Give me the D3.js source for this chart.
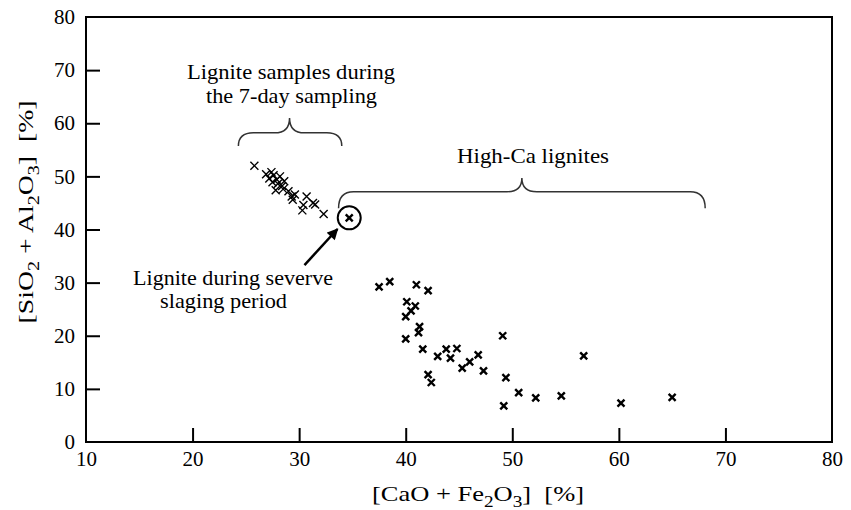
<!DOCTYPE html>
<html>
<head>
<meta charset="utf-8">
<script src="https://d3js.org/d3.v7.min.js"></script>
<style>
body { margin:0; background:#fff; }
svg text { font-family:"Liberation Serif","DejaVu Serif",serif; fill:#000; }
</style>
</head>
<body>
<svg id="chart" width="851" height="510"></svg>
<script>
// Lignite samples during the 7-day sampling: [CaO+Fe2O3, SiO2+Al2O3]
var sampling_x=[25.8,26.9,27.2,27.4,27.6,27.9,28.0,27.5,28.2,28.4,28.6,27.8,28.5,29.0,29.3,29.4,29.6,30.3,30.4,30.7,31.3,31.5,32.3];
var sampling_y=[52.0,50.4,49.6,50.8,50.2,49.4,48.6,48.9,50.0,48.2,49.1,47.4,47.6,47.2,46.2,45.6,46.6,43.6,44.6,46.2,45.0,44.7,42.9];

// High-Ca lignites
var highca_x=[37.5,38.5,41.0,42.1,40.1,40.9,40.5,40.0,41.3,41.2,40.0,41.6,43.0,43.8,44.8,44.2,45.3,46.0,46.8,47.3,42.1,42.4,49.1,49.4,49.2,50.6,52.2,54.6,56.7,60.2,65.0];
var highca_y=[29.2,30.2,29.6,28.5,26.4,25.6,24.7,23.6,21.7,20.6,19.4,17.5,16.1,17.5,17.6,15.8,13.9,15.1,16.4,13.4,12.7,11.2,20.0,12.1,6.8,9.3,8.3,8.7,16.2,7.3,8.4];

// Lignite during severe slagging period
var slag_x=[34.7];
var slag_y=[42.2];

var xticks=[10,20,30,40,50,60,70,80];
var yticks=[0,10,20,30,40,50,60,70,80];

var W=851, H=510;
var marg_left=86, marg_right=19, marg_top=17, marg_bottom=68;

var svg=d3.select('#chart');

var xScale=d3.scaleLinear().domain([10,80]).range([marg_left,W-marg_right]);
var yScale=d3.scaleLinear().domain([0,80]).range([H-marg_bottom,marg_top]);

// axes (ticks pointing inward)
var xAxis=d3.axisBottom(xScale).tickValues(xticks).tickSizeInner(-14).tickSizeOuter(0).tickPadding(9);
var yAxis=d3.axisLeft(yScale).tickValues(yticks).tickSizeInner(-14).tickSizeOuter(0).tickPadding(11);

var gx=svg.append('g')
	.attr('transform','translate(0,'+(H-marg_bottom)+')')
	.call(xAxis);
var gy=svg.append('g')
	.attr('transform','translate('+marg_left+',0)')
	.call(yAxis);
[gx,gy].forEach(function(g) {
	g.select('.domain').remove();
	g.selectAll('line').attr('stroke','#000').attr('stroke-width',2);
	g.selectAll('text').style('font-size','21px').attr('fill','#000');
});
// first/last ticks coincide with frame
gy.selectAll('.tick').filter(function(d) {return d==0||d==80;}).select('line').remove();
gx.selectAll('.tick').filter(function(d) {return d==10||d==80;}).select('line').remove();

// frame
svg.append('rect')
	.attr('x',xScale(10)).attr('y',yScale(80))
	.attr('width',xScale(80)-xScale(10)).attr('height',yScale(0)-yScale(80))
	.attr('fill','none').attr('stroke','#000').attr('stroke-width',2);

// axis labels with subscripts, stretched to the measured width
function sub_label(transform,parts,target) {
	var g=svg.append('g').attr('transform',transform);
	var t=g.append('text').attr('text-anchor','middle').style('font-size','22px');
	parts.forEach(function(p) {
		if (p.sub) t.append('tspan').attr('dy',6).style('font-size','16px').text(p.s);
		else t.append('tspan').attr('dy',p.after_sub?-6:0).text(p.s);
	});
	var len=t.node().getComputedTextLength();
	t.attr('transform','scale('+(target/len)+',1)');
}
sub_label('translate(478,501)',[
	{s:'[CaO + Fe'},{s:'2',sub:true},{s:'O',after_sub:true},{s:'3',sub:true},{s:']\u00a0\u00a0[%]',after_sub:true}
],212);
sub_label('translate(33,212) rotate(-90)',[
	{s:'[SiO'},{s:'2',sub:true},{s:' + Al',after_sub:true},{s:'2',sub:true},{s:'O',after_sub:true},{s:'3',sub:true},{s:']\u00a0\u00a0[%]',after_sub:true}
],223);

// markers
function cross(g,xs,ys,size,sw) {
	var data=xs.map(function(x,i) {return {x:x,y:ys[i]};});
	var s=size/2;
	g.selectAll('path.pt').data(data).enter().append('path')
		.attr('class','pt')
		.attr('d',function(d) {
			var cx=xScale(d.x), cy=yScale(d.y);
			return 'M'+(cx-s)+','+(cy-s)+'L'+(cx+s)+','+(cy+s)+'M'+(cx-s)+','+(cy+s)+'L'+(cx+s)+','+(cy-s);
		})
		.attr('stroke','#000').attr('stroke-width',sw).attr('fill','none');
}
cross(svg.append('g'),sampling_x,sampling_y,8,1.4);
cross(svg.append('g'),highca_x,highca_y,7,2.4);
cross(svg.append('g'),slag_x,slag_y,7,2.4);

// circle around slagging sample
svg.append('circle')
	.attr('cx',xScale(slag_x[0])).attr('cy',yScale(slag_y[0])).attr('r',11.5)
	.attr('fill','none').attr('stroke','#000').attr('stroke-width',2);

// curly braces
function brace(x0,x1,xm,yend,yline,ytip) {
	var X0=xScale(x0), X1=xScale(x1), XM=xScale(xm);
	var YE=yScale(yend), YL=yScale(yline), YT=yScale(ytip);
	var r=Math.min(10,(XM-X0)/4);
	var d='M'+X0+','+YE
		+'Q'+X0+','+YL+' '+(X0+r*1.5)+','+YL
		+'L'+(XM-r*1.5)+','+YL
		+'Q'+XM+','+YL+' '+XM+','+YT
		+'Q'+XM+','+YL+' '+(XM+r*1.5)+','+YL
		+'L'+(X1-r*1.5)+','+YL
		+'Q'+X1+','+YL+' '+X1+','+YE;
	svg.append('path').attr('d',d).attr('fill','none').attr('stroke','#333').attr('stroke-width',1.5);
}
brace(24.3,34.0,29.1,55.7,58.2,61.0);
brace(33.7,68.1,50.9,44.0,47.1,49.7);

// arrow
svg.append('defs').append('marker')
	.attr('id','arrowhead').attr('viewBox','0 0 10 10')
	.attr('refX',9).attr('refY',5)
	.attr('markerWidth',5).attr('markerHeight',4.5)
	.attr('markerUnits','strokeWidth')
	.attr('orient','auto')
	.append('path').attr('d','M0,0L10,5L0,10z').attr('fill','#000');
svg.append('line')
	.attr('x1',xScale(30.5)).attr('y1',yScale(33.3))
	.attr('x2',xScale(33.6)).attr('y2',yScale(40.1))
	.attr('stroke','#000').attr('stroke-width',2.5)
	.attr('marker-end','url(#arrowhead)');

// annotations
function label(x,y,txt,len) {
	svg.append('text').attr('x',x).attr('y',y)
		.attr('text-anchor','middle').style('font-size','21px')
		.attr('textLength',len).attr('lengthAdjust','spacingAndGlyphs')
		.text(txt);
}
label(291,79,'Lignite samples during',208);
label(291.5,103,'the 7-day sampling',171);
label(533,163,'High-Ca lignites',152);
label(233,285,'Lignite during severve',200);
label(223.5,308,'slaging period',127);
</script>
</body>
</html>
